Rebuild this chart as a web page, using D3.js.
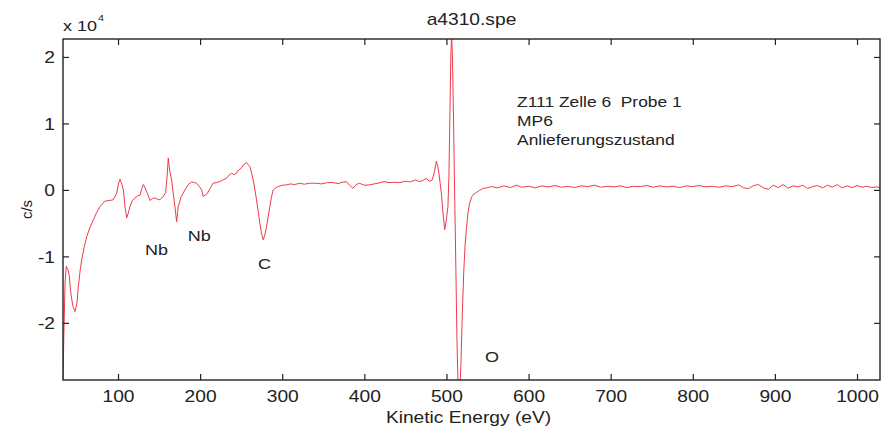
<!DOCTYPE html>
<html>
<head>
<meta charset="utf-8">
<script src="https://cdn.jsdelivr.net/npm/d3@7"></script>
<style>
  html, body { margin: 0; padding: 0; background: #fff; }
  svg text { font-family: "Liberation Sans", Arial, Helvetica, sans-serif; fill: #222; white-space: pre; }
</style>
</head>
<body>
<svg id="chart" width="886" height="433"></svg>
<script>
// ---- data ----
const energy = [33, 34, 35.5, 37, 39, 40.5, 42.5, 45, 47.7, 50, 51.7, 54, 55.8, 59, 62, 66, 70, 74, 78, 84, 89, 94, 98.4, 100.5, 102.4, 104.5, 106.5, 108.5, 110.6, 112.5, 114.6, 117.5, 120.7, 124, 126.8, 129, 130.8, 133, 135.7, 139, 142, 145, 148, 151, 155, 158, 159.8, 161.2, 162.8, 165.3, 167.5, 169.3, 171.4, 173.4, 177, 181.5, 185.5, 189.6, 193, 195.7, 199, 201.8, 203.8, 206, 209, 212, 215.8, 220, 224, 228, 232, 235, 238.3, 241, 244.4, 247, 250.5, 253, 256.6, 258.5, 260.6, 262.6, 264.6, 266.7, 268.7, 270.7, 272.7, 274.8, 276.8, 278.8, 280.9, 282.9, 284.9, 287, 289, 292, 295, 300, 305, 310, 315, 321, 327, 333, 341, 348, 355, 362, 368, 373, 378, 382, 386, 390, 394, 400, 406, 412, 418, 424, 430, 436, 443, 450, 456, 462, 467, 471, 475.5, 479, 482.8, 485.5, 487.7, 489.5, 490.8, 492.3, 493.8, 495.8, 497.8, 499.8, 501.8, 503, 504.3, 505.3, 506.3, 507.3, 508.3, 509.3, 510.3, 511.5, 512.7, 514, 515, 516.3, 517.7, 519.2, 521, 522.6, 524.2, 526.2, 528.2, 531, 533.5, 536.4, 540, 544, 548.5, 555, 562, 570, 578, 585, 592, 600, 608, 616, 624, 632, 640, 648, 656, 664, 672, 680, 688, 696, 704, 712, 720, 728, 736, 744, 752, 760, 768, 776, 784, 792, 800, 808, 816, 824, 832, 840, 848, 856, 862, 868, 874, 880, 886, 892, 898, 904, 910, 916, 922, 928, 934, 940, 946, 952, 958, 964, 970, 976, 982, 988, 994, 1000, 1006, 1012, 1018, 1024, 1028];

const counts = [-30000, -22000, -14000, -11500, -12000, -12800, -15500, -17500, -18300, -17000, -14500, -12000, -10500, -8500, -7000, -5600, -4500, -3400, -2500, -1700, -1600, -1500, -500, 900, 1600, 900, 0, -2500, -4200, -3500, -2500, -1600, -1200, -900, -800, 200, 800, 300, -500, -1600, -1300, -1200, -1400, -1500, -1000, -400, 2000, 4800, 3000, 1500, -800, -2500, -4800, -2500, -1000, 0, 800, 1200, 1100, 1000, 500, 0, -1000, -800, -500, 200, 1000, 1100, 1250, 1500, 1750, 2200, 2500, 2300, 2500, 3000, 3300, 3800, 4100, 3800, 3500, 2600, 1500, 0, -1500, -3200, -5000, -6600, -7500, -6800, -5500, -4000, -2500, -1000, 0, 300, 500, 700, 750, 900, 800, 1000, 850, 1000, 1000, 900, 1100, 1100, 950, 1150, 1250, 700, 250, 800, 1000, 700, 750, 900, 1050, 1250, 1100, 1150, 1100, 1300, 1200, 1500, 1250, 1400, 1750, 1300, 1500, 2800, 4300, 3500, 2500, 1000, -500, -3500, -6000, -4500, -2500, 2000, 12000, 20000, 23500, 20000, 13000, 5000, -3000, -12000, -22000, -29000, -31000, -30000, -26000, -19000, -12500, -8500, -6000, -3500, -2000, -1000, -600, -400, -100, 200, 300, 500, 300, 600, 350, 700, 400, 550, 300, 600, 450, 650, 400, 550, 350, 600, 500, 700, 400, 550, 450, 600, 350, 550, 500, 650, 400, 600, 450, 550, 350, 600, 500, 650, 450, 550, 400, 600, 500, 750, 300, 200, 650, 800, 300, 100, 700, 350, 800, 250, 600, 450, 700, 200, 500, 650, 300, 700, 400, 800, 300, 600, 350, 650, 400, 550, 350, 450, 300];

const xTicks = [100, 200, 300, 400, 500, 600, 700, 800, 900, 1000];
const yTicks = [-20000, -10000, 0, 10000, 20000];
const xDomain = [33, 1028];
const yDomain = [-28600, 22700];

const titleText = "a4310.spe";
const xLabel = "Kinetic Energy (eV)";
const yLabel = "c/s";
const infoLines = ["Z111 Zelle 6  Probe 1", "MP6", "Anlieferungszustand"];
const peakLabels = [
  { text: "Nb", e: 133, v: -9800 },
  { text: "Nb", e: 185, v: -7740 },
  { text: "C",  e: 270.5, v: -11850 },
  { text: "O",  e: 547, v: -25900 }
];

// ---- layout ----
const M = { left: 63, top: 39, right: 6, bottom: 53 };
const W = 886 - M.left - M.right;
const H = 433 - M.top - M.bottom;
const SX = 1.2;       // horizontal stretch of the original raster text
const FS = 16;

const svg = d3.select("#chart");
const g = svg.append("g").attr("transform", `translate(${M.left},${M.top})`);

const x = d3.scaleLinear().domain(xDomain).range([0, W]);
const y = d3.scaleLinear().domain(yDomain).range([H, 0]);

function stext(parent, px, py, str, anchor, size) {
  return parent.append("text")
    .attr("transform", `translate(${px},${py}) scale(${SX},1)`)
    .attr("text-anchor", anchor || "start")
    .attr("xml:space", "preserve")
    .style("font-size", (size || FS) + "px")
    .text(str);
}

// clip
svg.append("defs").append("clipPath").attr("id", "clip")
  .append("rect").attr("width", W).attr("height", H);

// line
const pts = energy.map((e, i) => [e, counts[i]]);
g.append("path")
  .datum(pts)
  .attr("clip-path", "url(#clip)")
  .attr("fill", "none")
  .attr("stroke", "#f03a48")
  .attr("stroke-width", 1)
  .attr("stroke-linejoin", "round")
  .attr("d", d3.line().x(d => x(d[0])).y(d => y(d[1])));

// axes (inward ticks)
const axisColor = "#222";
const xb = g.append("g").attr("transform", `translate(0,${H})`)
  .call(d3.axisBottom(x).tickValues(xTicks).tickSize(-6).tickSizeOuter(0).tickFormat(d3.format("d")));
xb.selectAll("text").attr("y", null).attr("dy", null)
  .attr("transform", `translate(0,22) scale(${SX},1)`).style("font-size", FS + "px");

g.append("g")
  .call(d3.axisTop(x).tickValues(xTicks).tickSize(-6).tickSizeOuter(0).tickFormat(""));

const yl = g.append("g")
  .call(d3.axisLeft(y).tickValues(yTicks).tickSize(-6).tickSizeOuter(0).tickFormat(d => String(d / 1e4)));
yl.selectAll("text").attr("x", null).attr("dy", null)
  .attr("transform", `translate(-8,6) scale(${SX},1)`).style("font-size", FS + "px");

g.append("g").attr("transform", `translate(${W},0)`)
  .call(d3.axisRight(y).tickValues(yTicks).tickSize(-6).tickSizeOuter(0).tickFormat(""));

g.selectAll(".domain").remove();
g.selectAll(".tick line").attr("stroke", axisColor).attr("stroke-width", 1.2);
g.selectAll(".tick text").attr("fill", "#222").style("font-family", "'Liberation Sans', Arial, sans-serif");

g.append("rect").attr("width", W).attr("height", H)
  .attr("fill", "none").attr("stroke", axisColor).attr("stroke-width", 1.4);

// exponent
stext(svg, M.left, 31, "x 10", "start", 15);
stext(svg, M.left + 35, 21, "4", "start", 9);

// title
stext(svg, M.left + W / 2, 25, titleText, "middle");

// axis labels
stext(svg, M.left + W / 2 - 3, 423, xLabel, "middle");
svg.append("text")
  .attr("transform", `translate(32,${M.top + H / 2}) rotate(-90)`)
  .attr("text-anchor", "middle")
  .style("font-size", "15px")
  .text(yLabel);

// info text
infoLines.forEach((t, i) => stext(g, x(586), y(12500) + i * 19, t, "start", 14.5));

// peak labels
peakLabels.forEach(p => stext(g, x(p.e), y(p.v), p.text, "start", 15));
</script>
</body>
</html>
